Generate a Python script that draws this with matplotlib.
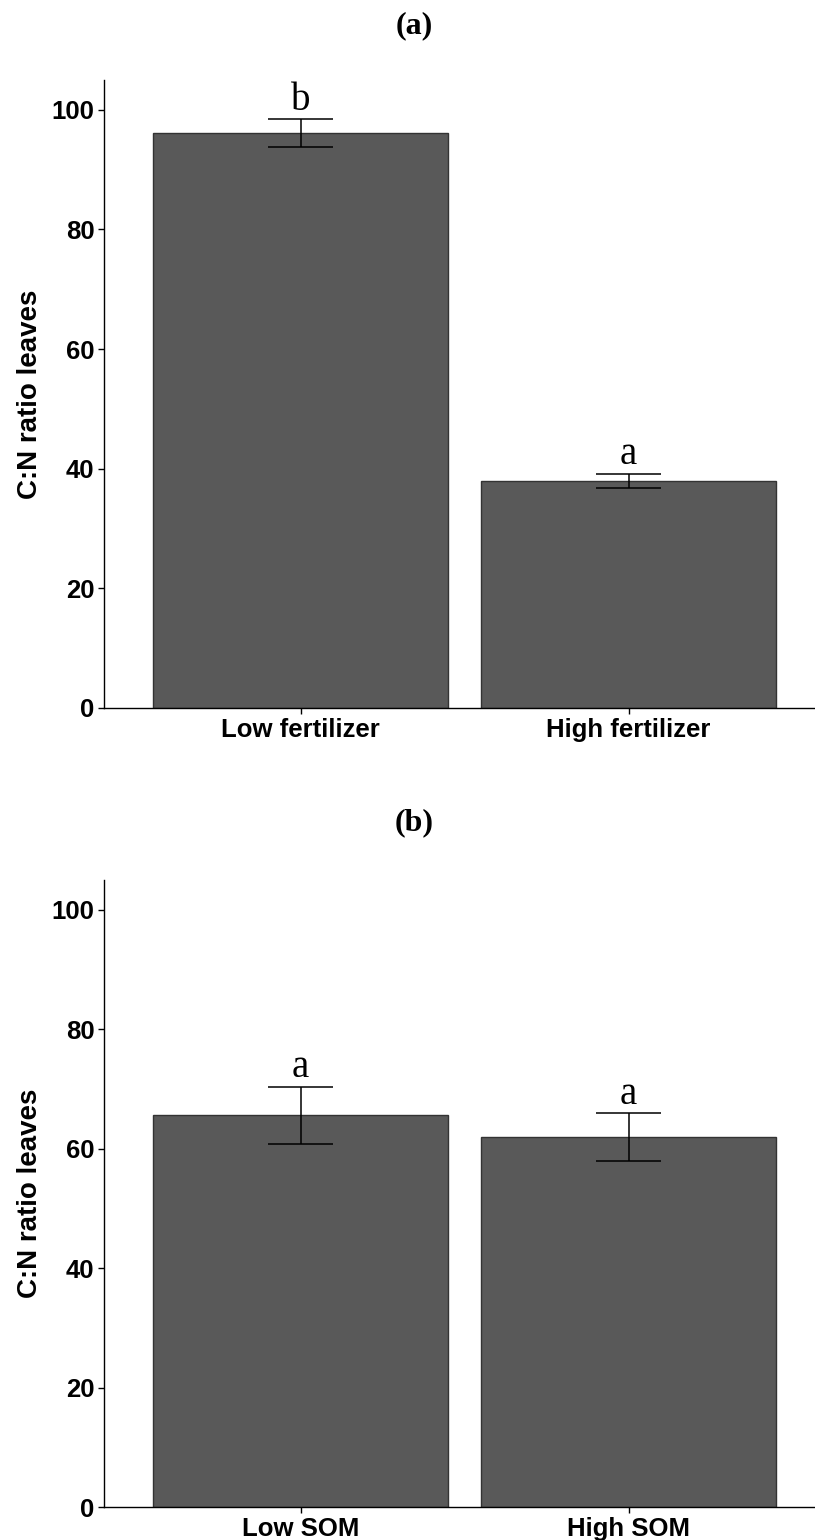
import matplotlib
matplotlib.use('Agg')
import matplotlib.pyplot as plt

# Data
fert_labels = ["Low fertilizer", "High fertilizer"]
fert_means = [96.1, 37.9]
fert_se = [2.3, 1.2]
fert_letters = ["b", "a"]

som_labels = ["Low SOM", "High SOM"]
som_means = [65.6, 61.9]
som_se = [4.8, 4.0]
som_letters = ["a", "a"]

yticks = [0, 20, 40, 60, 80, 100]

fig = plt.figure(figsize=(8.15, 15.4), dpi=100)

panels = [
    ("(a)", fert_labels, fert_means, fert_se, fert_letters, [0.1276, 0.5403, 0.885, 0.4078], 0.983),
    ("(b)", som_labels, som_means, som_se, som_letters, [0.1276, 0.0214, 0.885, 0.4072], 0.4655),
]

for title, labels, means, se, letters, rect, ty in panels:
    ax = fig.add_axes(rect)
    x = list(range(1, len(labels) + 1))
    ax.bar(x, means, width=0.9, color="#595959", edgecolor="#333333", linewidth=1.0, zorder=2)
    lo = [m - s for m, s in zip(means, se)]
    hi = [m + s for m, s in zip(means, se)]
    # error bars
    ax.vlines(x, lo, hi, color="black", linewidth=1.1, zorder=3)
    ax.hlines(hi, [i - 0.1 for i in x], [i + 0.1 for i in x], color="black", linewidth=1.1, zorder=3)
    ax.hlines(lo, [i - 0.1 for i in x], [i + 0.1 for i in x], color="black", linewidth=1.1, zorder=3)
    for xi, h, let in zip(x, hi, letters):
        ax.annotate(let, (xi, h), xytext=(0, 7), textcoords="offset points",
                    ha="center", va="baseline", fontsize=28, family="Liberation Serif")
    ax.set_xlim(0.4, 2.6)
    ax.set_ylim(0, 105)
    ax.set_yticks(yticks)
    ax.set_xticks(x)
    ax.set_xticklabels(labels, fontsize=18.5, fontweight="bold", family="Liberation Sans")
    for lab in ax.get_yticklabels():
        lab.set_fontsize(18.5)
        lab.set_fontweight("bold")
        lab.set_family("Liberation Sans")
    ax.set_ylabel("C:N ratio leaves", fontsize=20, fontweight="bold", family="Liberation Sans", labelpad=6)
    ax.tick_params(axis="both", length=4, width=1, color="black", pad=3)
    ax.spines["top"].set_visible(False)
    ax.spines["right"].set_visible(False)
    ax.spines["left"].set_linewidth(1.0)
    ax.spines["bottom"].set_linewidth(1.0)
    fig.text(0.508, ty, title, ha="center", va="center", fontsize=23,
             fontweight="bold", family="Liberation Serif")

plt.savefig("out.png", dpi=100)
